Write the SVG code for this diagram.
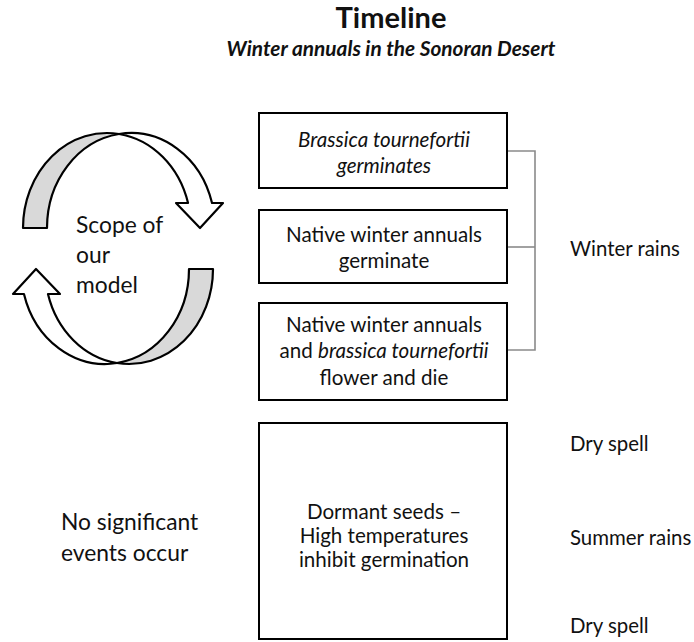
<svg xmlns="http://www.w3.org/2000/svg" width="694" height="642" viewBox="0 0 694 642">
<style>
text{font-family:Lato,"Liberation Sans",sans-serif;fill:#111}
.box{fill:#fff;stroke:#000;stroke-width:2}
.bt{font-size:20.6px;text-anchor:middle}
.lbl{font-size:20.4px}
.big{font-size:22.8px}
.it{font-style:italic}
.br{fill:none;stroke:#8a8a8a;stroke-width:1.6}
.arr{stroke:#000;stroke-width:2.2;stroke-linejoin:round}
</style>
<rect width="694" height="642" fill="#fff"/>
<g id="title">
<text x="391" y="28" font-size="29" font-weight="bold" text-anchor="middle">Timeline</text>
<text x="391" y="56" font-size="20.8" font-weight="bold" font-style="italic" text-anchor="middle">Winter annuals in the Sonoran Desert</text>
</g>
<g id="cycle">
<g id="arrow-top">
<path class="arr" fill="#d9d9d9" d="M23,228 A84,95 0 0 1 119,133.97 A84,95 0 0 0 47,228 Z"/>
<path class="arr" fill="#fff" d="M119,133.97 A84,95 0 0 1 212.04,203 L223,203 L200,228 L176,203 L188.04,203 A84,95 0 0 0 119,133.97 Z"/>
</g>
<g id="arrow-bottom" transform="rotate(180 118 248.5)">
<path class="arr" fill="#d9d9d9" d="M23,228 A84,95 0 0 1 119,133.97 A84,95 0 0 0 47,228 Z"/>
<path class="arr" fill="#fff" d="M119,133.97 A84,95 0 0 1 212.04,203 L223,203 L200,228 L176,203 L188.04,203 A84,95 0 0 0 119,133.97 Z"/>
</g>
<text class="big" x="76" y="233">Scope of</text>
<text class="big" x="76" y="263">our</text>
<text class="big" x="76" y="293">model</text>
</g>
<g id="connectors">
<polyline class="br" points="508,151 535,151 535,350 508,350"/>
<line class="br" x1="508" y1="247" x2="535" y2="247"/>
</g>
<g id="box1">
<rect class="box" x="259" y="113" width="248" height="75"/>
<text class="bt it" x="384" y="147">Brassica tournefortii</text>
<text class="bt it" x="384" y="173">germinates</text>
</g>
<g id="box2">
<rect class="box" x="259" y="210" width="248" height="73"/>
<text class="bt" x="384" y="242">Native winter annuals</text>
<text class="bt" x="384" y="268">germinate</text>
</g>
<g id="box3">
<rect class="box" x="259" y="303" width="248" height="97"/>
<text class="bt" x="384" y="332">Native winter annuals</text>
<text class="bt" x="384" y="358">and <tspan font-style="italic">brassica tournefortii</tspan></text>
<text class="bt" x="384" y="385">flower and die</text>
</g>
<g id="box4">
<rect class="box" x="259" y="423" width="248" height="216"/>
<text class="bt" x="384" y="519">Dormant seeds –</text>
<text class="bt" x="384" y="543">High temperatures</text>
<text class="bt" x="384" y="567">inhibit germination</text>
</g>
<g id="labels">
<text class="lbl" x="570" y="256">Winter rains</text>
<text class="lbl" x="570" y="451">Dry spell</text>
<text class="lbl" x="570" y="545">Summer rains</text>
<text class="lbl" x="570" y="633">Dry spell</text>
<text class="big" x="61" y="530">No significant</text>
<text class="big" x="61" y="561">events occur</text>
</g>
</svg>
